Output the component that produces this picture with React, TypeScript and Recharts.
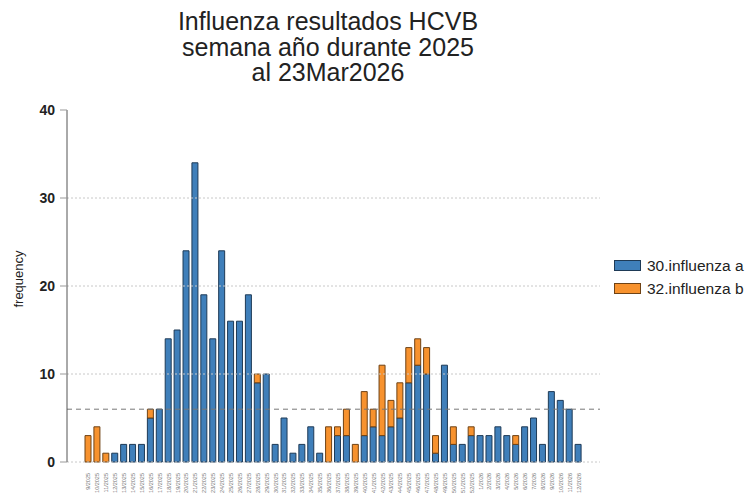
import React from "react";
import { BarChart, Bar, XAxis, YAxis, ReferenceLine } from "recharts";

// semana/año, one bar per week
const weeks = [
  "9/2025", "10/2025", "11/2025", "12/2025", "13/2025", "14/2025", "15/2025", "16/2025",
  "17/2025", "18/2025", "19/2025", "20/2025", "21/2025", "22/2025", "23/2025", "24/2025",
  "25/2025", "26/2025", "27/2025", "28/2025", "29/2025", "30/2025", "31/2025", "32/2025",
  "33/2025", "34/2025", "35/2025", "36/2025", "37/2025", "38/2025", "39/2025", "40/2025",
  "41/2025", "42/2025", "43/2025", "44/2025", "45/2025", "46/2025", "47/2025", "48/2025",
  "49/2025", "50/2025", "51/2025", "52/2025", "1/2026", "2/2026", "3/2026", "4/2026",
  "5/2026", "6/2026", "7/2026", "8/2026", "9/2026", "10/2026", "11/2026", "12/2026",
];

const influenzaA = [
  0, 0, 0, 1, 2, 2, 2, 5, 6, 14,
  15, 24, 34, 19, 14, 24, 16, 16, 19, 9,
  10, 2, 5, 1, 2, 4, 1, 0, 3, 3,
  0, 3, 4, 3, 4, 5, 9, 11, 10, 1,
  11, 2, 2, 3, 3, 3, 4, 3, 2, 4,
  5, 2, 8, 7, 6, 2,
];

const influenzaB = [
  3, 4, 1, 0, 0, 0, 0, 1, 0, 0,
  0, 0, 0, 0, 0, 0, 0, 0, 0, 1,
  0, 0, 0, 0, 0, 0, 0, 4, 1, 3,
  2, 5, 2, 8, 3, 4, 4, 3, 3, 2,
  0, 2, 0, 1, 0, 0, 0, 0, 1, 0,
  0, 0, 0, 0, 0, 0,
];

const yTicks = [0, 10, 20, 30, 40];
const gridValues = [0, 10, 20, 30];
const threshold = 6;

const BLUE = "#3F7FBA";
const ORANGE = "#F7922E";
const FONT = "'Liberation Sans', Arial, sans-serif";

const data = weeks.map((week, i) => ({
  week,
  a: influenzaA[i],
  b: influenzaB[i],
}));

const WeekTick = (props: any) => {
  const { x, y, payload } = props;
  return (
    <g transform={`translate(${x},${y + 3})`}>
      <text
        transform="rotate(-90)"
        textAnchor="end"
        dominantBaseline="central"
        fontSize={5.5}
        fill="#777"
        fontFamily={FONT}
      >
        {payload.value}
      </text>
    </g>
  );
};

export default function App() {
  return (
    <div style={{ position: "absolute", left: 0, top: 0, width: 752, height: 496, background: "#fff", fontFamily: FONT }}>
      {/* title */}
      <div
        style={{
          position: "absolute",
          left: 128,
          width: 400,
          top: 9,
          textAlign: "center",
          fontSize: 25,
          lineHeight: "25.5px",
          color: "#222",
        }}
      >
        Influenza resultados HCVB
        <br />
        semana año durante 2025
        <br />
        al 23Mar2026
      </div>

      {/* y label */}
      <div
        style={{
          position: "absolute",
          left: 18,
          top: 279,
          transform: "translate(-50%, -50%) rotate(-90deg)",
          fontSize: 13,
          color: "#222",
          whiteSpace: "nowrap",
        }}
      >
        frequency
      </div>

      <BarChart
        width={752}
        height={496}
        data={data}
        margin={{ top: 110, right: 152, bottom: 4, left: 17 }}
        barSize={6}
      >
        {gridValues.map((v) => (
          <ReferenceLine key={v} y={v} stroke="#c8c8c8" strokeDasharray="2 2" />
        ))}
        <ReferenceLine y={threshold} stroke="#777" strokeDasharray="5 4" />
        <XAxis
          dataKey="week"
          interval={0}
          height={30}
          tickLine={false}
          axisLine={false}
          tick={<WeekTick />}
          padding={{ left: 17, right: 17 }}
        />
        <YAxis
          width={50}
          domain={[0, 40]}
          ticks={yTicks}
          tickSize={7}
          tickMargin={5}
          axisLine={{ stroke: "#555" }}
          tickLine={{ stroke: "#999" }}
          tick={{ fontSize: 14, fill: "#222", fontFamily: FONT, fontWeight: 600 }}
        />
        <Bar dataKey="a" stackId="s" fill={BLUE} stroke="#1e3a56" strokeWidth={1} isAnimationActive={false} />
        <Bar dataKey="b" stackId="s" fill={ORANGE} stroke="#6e4215" strokeWidth={1} isAnimationActive={false} />
      </BarChart>

      {/* legend */}
      <div style={{ position: "absolute", left: 614, top: 254, fontSize: 15.5, color: "#222" }}>
        {[
          { label: "30.influenza a", color: BLUE, border: "#1e3a56" },
          { label: "32.influenza b", color: ORANGE, border: "#6e4215" },
        ].map((item) => (
          <div key={item.label} style={{ display: "flex", alignItems: "center", height: 23, whiteSpace: "nowrap" }}>
            <span
              style={{
                display: "inline-block",
                width: 25,
                height: 9,
                background: item.color,
                border: `1px solid ${item.border}`,
                marginRight: 6,
              }}
            />
            {item.label}
          </div>
        ))}
      </div>
    </div>
  );
}
